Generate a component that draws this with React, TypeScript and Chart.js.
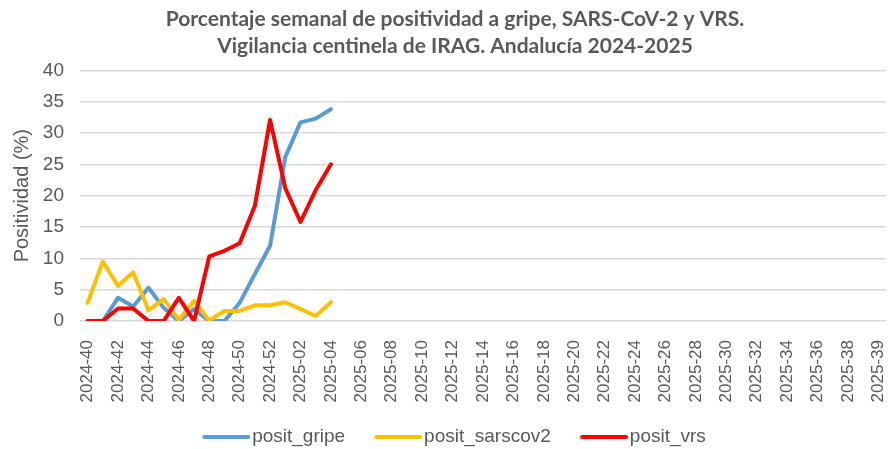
import React, { useEffect, useRef } from "react";
import { Chart, registerables } from "chart.js";

Chart.register(...registerables);

const weeks2024: string[] = ["40","41","42","43","44","45","46","47","48","49","50","51","52"];
const weeks2025: string[] = ["01","02","03","04","05","06","07","08","09","10","11","12","13","14","15","16","17","18","19","20","21","22","23","24","25","26","27","28","29","30","31","32","33","34","35","36","37","38","39"];
const categories: string[] = [
  ...weeks2024.map((w) => "2024-" + w),
  ...weeks2025.map((w) => "2025-" + w),
  "2025-39",
];

const positGripe: (number | null)[] = [0, 0, 3.7, 2.3, 5.3, 2.1, 0, 1.9, 0, 0, 2.9, 7.5, 12.0, 26.2, 31.7, 32.3, 33.8];
const positSarscov2: (number | null)[] = [2.9, 9.5, 5.6, 7.8, 1.7, 3.5, 0.2, 3.2, 0.1, 1.6, 1.6, 2.5, 2.5, 3.0, 1.9, 0.8, 3.0];
const positVrs: (number | null)[] = [0, 0, 2.0, 2.0, 0, 0, 3.7, 0, 10.3, 11.2, 12.4, 18.4, 32.1, 21.2, 15.8, 20.9, 25.0];

const yTicks: number[] = [0, 5, 10, 15, 20, 25, 30, 35, 40];

const titleLines: string[] = [
  "Porcentaje semanal de positividad a gripe, SARS-CoV-2 y VRS.",
  "Vigilancia centinela de IRAG. Andalucía 2024-2025",
];

const pad = (arr: (number | null)[]) => categories.map((_, i) => (i < arr.length ? arr[i] : null));

const TEXT = "#595959";
const FONT = "'Liberation Sans', Arial, sans-serif";
const LEGEND_FONT = 19;
const SWATCH_LEN = 48;
const SWATCH_GAP = 2;
const SLOT = SWATCH_LEN + SWATCH_GAP - LEGEND_FONT / 2;

function swatch(color: string): HTMLCanvasElement {
  // legend sample: a short thick line ending just before the text
  const w = Math.round(2 * (SWATCH_LEN - SLOT / 2));
  const c = document.createElement("canvas");
  c.width = w;
  c.height = 8;
  const ctx = c.getContext("2d")!;
  ctx.strokeStyle = color;
  ctx.lineWidth = 4;
  ctx.lineCap = "round";
  ctx.beginPath();
  ctx.moveTo(w - SWATCH_LEN + 2, 4);
  ctx.lineTo(w - 2, 4);
  ctx.stroke();
  return c;
}

const placeBoxes = {
  id: "placeBoxes",
  afterLayout(chart: any) {
    const t = chart.titleBlock;
    if (t) {
      const dx = 455 - (t.left + t.right) / 2;
      t.left += dx;
      t.right += dx;
    }
    const l = chart.legend;
    if (l) {
      const dx = 454 - (l.left + l.right) / 2;
      l.left += dx;
      l.right += dx;
      const dy = 437 - LEGEND_FONT / 2 - l.options.labels.padding - l.top;
      l.top += dy;
      l.bottom += dy;
    }
  },
};

export default function App() {
  const ref = useRef<HTMLCanvasElement | null>(null);
  useEffect(() => {
    document.body.style.margin = "0";
    if (!ref.current) return;
    const colors = ["#5B9BD5", "#FFC000", "#FF0000"];
    const chart = new Chart(ref.current, {
      type: "line",
      plugins: [placeBoxes],
      data: {
        labels: categories,
        datasets: [
          { label: "posit_gripe", data: pad(positGripe), borderColor: colors[0], backgroundColor: colors[0], order: 2, pointStyle: swatch(colors[0]) },
          { label: "posit_sarscov2", data: pad(positSarscov2), borderColor: colors[1], backgroundColor: colors[1], order: 1, pointStyle: swatch(colors[1]) },
          { label: "posit_vrs", data: pad(positVrs), borderColor: colors[2], backgroundColor: colors[2], order: 0, pointStyle: swatch(colors[2]) },
        ].map((d) => ({
          ...d,
          borderWidth: 4,
          pointRadius: 0,
          pointHoverRadius: 0,
          tension: 0,
          spanGaps: false,
          borderJoinStyle: "round" as const,
          borderCapStyle: "round" as const,
        })),
      },
      options: {
        responsive: false,
        animation: false,
        maintainAspectRatio: false,
        layout: { padding: { left: 4, right: 4, top: 4, bottom: -22 } },
        plugins: {
          tooltip: { enabled: false },
          title: {
            display: true,
            text: titleLines,
            color: TEXT,
            font: { family: "Lato, 'Liberation Sans', sans-serif", size: 21, weight: "bold", lineHeight: 1.27 },
            padding: { top: 2, bottom: 11 },
          },
          legend: {
            position: "bottom",
            labels: {
              color: TEXT,
              font: { family: FONT, size: LEGEND_FONT },
              usePointStyle: true,
              pointStyleWidth: SLOT,
              padding: 29,
              sort: (a: any, b: any) => a.datasetIndex - b.datasetIndex,
            },
          },
        },
        scales: {
          x: {
            offset: true,
            grid: { display: false },
            border: { display: false },
            ticks: {
              color: TEXT,
              font: { family: FONT, size: 17 },
              autoSkip: false,
              maxRotation: 90,
              minRotation: 90,
              padding: 11,
              callback: (_v: any, i: number) => (i % 2 === 0 ? categories[i] : ""),
            },
            afterFit: (s: any) => { s.height = 92; s.paddingLeft = 0; s.paddingRight = 0; },
          },
          y: {
            min: 0,
            max: 40,
            afterBuildTicks: (s: any) => { s.ticks = yTicks.map((v) => ({ value: v })); },
            grid: { color: "#D9D9D9", lineWidth: 1.5, drawTicks: false },
            border: { display: false },
            ticks: { color: TEXT, font: { family: FONT, size: 19 }, padding: 16 },
            title: { display: true, text: "Positividad (%)", color: TEXT, font: { family: FONT, size: 20 }, padding: { top: 6, bottom: 0 } },
            afterFit: (s: any) => { s.width = 76; },
          },
        },
      },
    });
    return () => chart.destroy();
  }, []);
  return (
    <div style={{ width: 890, height: 449, background: "#fff" }}>
      <canvas ref={ref} width={890} height={449} />
    </div>
  );
}
